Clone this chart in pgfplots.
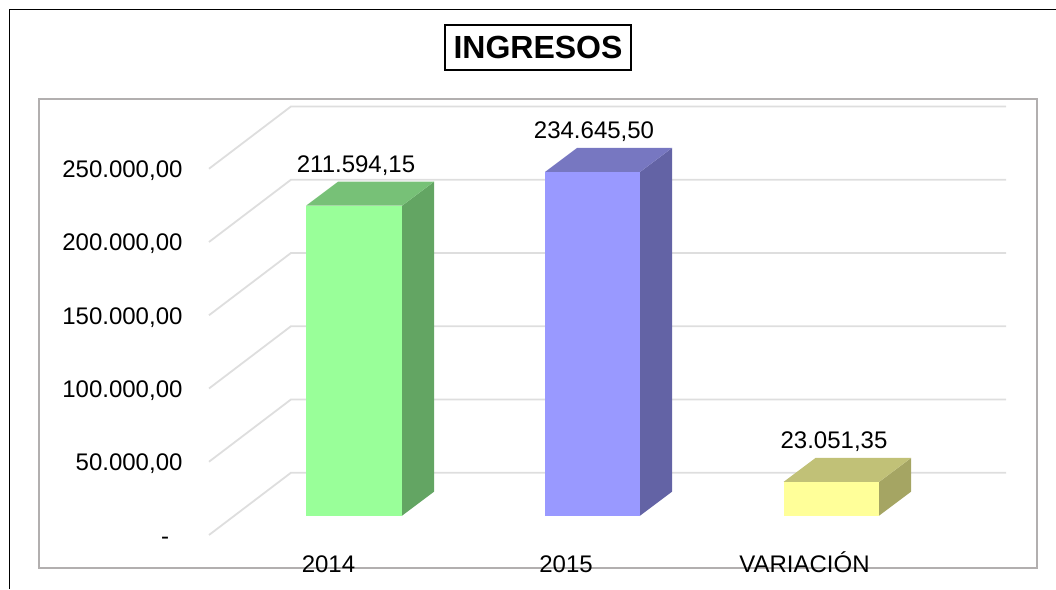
\documentclass[border=0pt]{standalone}
\usepackage{fontspec}
\setmainfont{Liberation Sans}
\usepackage{pgfplots}
\pgfplotsset{compat=1.18}
\definecolor{gridc}{HTML}{DEDEDE}
\definecolor{boxc}{HTML}{B2AFAF}
\definecolor{gf}{HTML}{99FF99}\definecolor{gs}{HTML}{63A563}\definecolor{gt}{HTML}{77C177}
\definecolor{bf}{HTML}{9999FF}\definecolor{bs}{HTML}{6363A5}\definecolor{bt}{HTML}{7777C1}
\definecolor{yf}{HTML}{FFFF99}\definecolor{ys}{HTML}{A5A563}\definecolor{yt}{HTML}{C1C177}
\newcommand{\lbl}{\fontsize{24}{28}\selectfont}
\begin{document}
\begin{tikzpicture}[x=1pt,y=1pt]
\useasboundingbox (0,0) rectangle (1056,589);
% outer frame and chart box
\draw[black,line width=1.8pt] (9.5,0) -- (9.5,579.5) -- (1056,579.5);
\draw[boxc,line width=2pt] (39,490) rectangle (1037,21);
% wall: true scale at the front edge of the wall
\begin{axis}[
  at={(209pt,54pt)},anchor=south west,
  scale only axis,width=797pt,height=366.25pt,
  xmin=209,xmax=1006,ymin=0,ymax=250000,
  scaled y ticks=false,
  clip=false,
  axis line style={draw=none},
  major tick length=0pt,
  ytick={0,50000,100000,150000,200000,250000},
  yticklabels={-\phantom{0},{50.000,00},{100.000,00},{150.000,00},{200.000,00},{250.000,00}},
  xtick={328.5,566,804.5},
  xticklabels={2014,2015,VARIACIÓN},
  yticklabel style={font=\lbl,anchor=base east,xshift=-23pt,yshift=-9pt},
  xticklabel style={font=\lbl,anchor=base,yshift=-37pt},
  title={INGRESOS},
  title style={at={(0.4128,1.3146)},anchor=center,draw=black,line width=1.5pt,
    font=\fontsize{32}{38}\selectfont\bfseries,minimum width=186pt,minimum height=45pt,inner sep=0pt},
]
\addplot[gridc,line width=1.8pt] coordinates {(209,0)(291,42526)(1006,42526)};
\addplot[gridc,line width=1.8pt] coordinates {(209,50000)(291,92526)(1006,92526)};
\addplot[gridc,line width=1.8pt] coordinates {(209,100000)(291,142526)(1006,142526)};
\addplot[gridc,line width=1.8pt] coordinates {(209,150000)(291,192526)(1006,192526)};
\addplot[gridc,line width=1.8pt] coordinates {(209,200000)(291,242526)(1006,242526)};
\addplot[gridc,line width=1.8pt] coordinates {(209,250000)(291,292526)(1006,292526)};
\end{axis}
% bars: true scale at the front plane of the bars
\begin{axis}[
  at={(209pt,73.3pt)},anchor=south west,
  scale only axis,width=797pt,height=366.25pt,
  xmin=209,xmax=1006,ymin=0,ymax=250000,
  clip=false,axis lines=none,
  nodes near coords style={font=\lbl,anchor=base,yshift=33pt,inner sep=0pt,text=black},
]
% 2014
\addplot[fill=gs,draw=none] coordinates {(402,0)(434,16382)(434,227976.15)(402,211594.15)} -- cycle;
\addplot[fill=gt,draw=none] coordinates {(306,211594.15)(338,227976.15)(434,227976.15)(402,211594.15)} -- cycle;
\addplot[fill=gf,draw=none] coordinates {(306,0)(402,0)(402,211594.15)(306,211594.15)} -- cycle;
% 2015
\addplot[fill=bs,draw=none] coordinates {(640,0)(672,16382)(672,251027.5)(640,234645.5)} -- cycle;
\addplot[fill=bt,draw=none] coordinates {(545,234645.5)(577,251027.5)(672,251027.5)(640,234645.5)} -- cycle;
\addplot[fill=bf,draw=none] coordinates {(545,0)(640,0)(640,234645.5)(545,234645.5)} -- cycle;
% VARIACION
\addplot[fill=ys,draw=none] coordinates {(879,0)(911,16382)(911,39433.35)(879,23051.35)} -- cycle;
\addplot[fill=yt,draw=none] coordinates {(783.5,23051.35)(815.5,39433.35)(911,39433.35)(879,23051.35)} -- cycle;
\addplot[fill=yf,draw=none] coordinates {(783.5,0)(879,0)(879,23051.35)(783.5,23051.35)} -- cycle;
% value labels
\addplot[draw=none,mark=none,nodes near coords,point meta=explicit symbolic]
  coordinates {(356,211594.15)[211.594,15] (594,234645.5)[234.645,50] (834,23051.35)[23.051,35]};
\end{axis}
\end{tikzpicture}
\end{document}
